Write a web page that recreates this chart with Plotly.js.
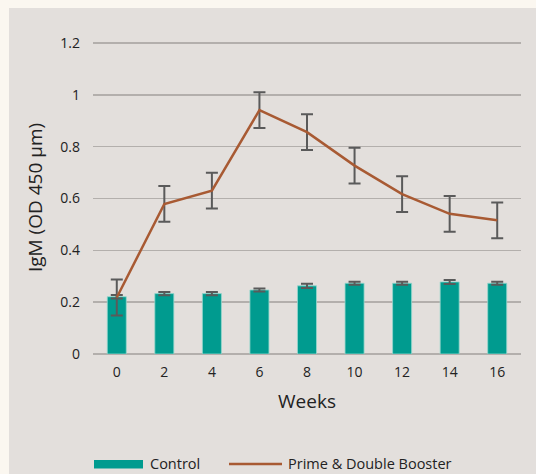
<!DOCTYPE html>
<html>
<head>
<meta charset="utf-8">
<script src="https://cdn.plot.ly/plotly-3.0.1.min.js"></script>
<style>html,body{margin:0;padding:0;background:#fbf7f0;}#chart{width:536px;height:474px;}</style>
</head>
<body>
<div id="chart"></div>
<script>
const weeks = ['0','2','4','6','8','10','12','14','16'];
const controlValues = [0.221, 0.233, 0.233, 0.247, 0.263, 0.273, 0.273, 0.278, 0.273];
const controlErrors = [0.007, 0.006, 0.006, 0.006, 0.008, 0.006, 0.006, 0.008, 0.006];
const boosterValues = [0.218, 0.579, 0.630, 0.941, 0.856, 0.727, 0.617, 0.541, 0.516];
const boosterErrors = [0.069, 0.069, 0.069, 0.069, 0.069, 0.069, 0.069, 0.069, 0.069];
const seriesNames = ['Control', 'Prime & Double Booster'];

const FONT = 'Open Sans, Noto Sans, sans-serif';
const teal = '#009b8f';
const brown = '#a85a33';

const traces = [
  {
    type: 'bar', x: weeks, y: controlValues, name: seriesNames[0],
    width: 0.4,
    marker: {color: teal, line: {color: 'rgba(150,215,205,0.8)', width: 1}},
    error_y: {type: 'data', array: controlErrors, visible: true, color: '#5a5a5a', thickness: 2, width: 6},
    showlegend: false, hoverinfo: 'skip'
  },
  {
    type: 'scatter', mode: 'lines', x: weeks, y: boosterValues, name: seriesNames[1],
    line: {color: brown, width: 2.5},
    error_y: {type: 'data', array: boosterErrors, visible: true, color: '#5a5a5a', thickness: 2, width: 6},
    showlegend: false, hoverinfo: 'skip'
  }
];

const W = 428, H = 313, L = 93, T = 41;
const px = v => (v - L) / W;
const py = v => (T + H - v) / H;

const layout = {
  width: 536, height: 474,
  margin: {l: L, r: 536 - L - W, t: T, b: 474 - T - H, pad: 0},
  paper_bgcolor: '#e3dfdc',
  plot_bgcolor: 'rgba(0,0,0,0)',
  font: {family: FONT, color: '#222222', size: 14},
  showlegend: false,
  xaxis: {
    type: 'category', range: [-0.5, 8.5],
    showgrid: false, zeroline: false, showline: false, ticks: '',
    tickfont: {size: 14, family: FONT, color: '#222'},
    ticklabelstandoff: 8,
    title: {text: 'Weeks', font: {size: 19, family: FONT, color: '#222'}, standoff: 14}
  },
  yaxis: {
    range: [0, 1.2 * 313 / 311], tickvals: [0, 0.2, 0.4, 0.6, 0.8, 1, 1.2],
    ticktext: ['0', '0.2', '0.4', '0.6', '0.8', '1', '1.2'],
    showgrid: true, gridcolor: '#b3afac', gridwidth: 1.5,
    zeroline: true, zerolinecolor: '#b3afac', zerolinewidth: 1.5,
    showline: false, ticks: '',
    tickfont: {size: 14, family: FONT, color: '#222'},
    ticklabelstandoff: 12,
    title: {text: 'IgM (OD 450 μm)', font: {size: 19, family: FONT, color: '#222'}, standoff: 12}
  },
  shapes: [
    {type: 'rect', xref: 'paper', yref: 'paper', layer: 'below', x0: -0.3, x1: px(9), y0: -0.6, y1: 1.3, fillcolor: '#fbf7f0', line: {width: 0}},
    {type: 'rect', xref: 'paper', yref: 'paper', layer: 'below', x0: -0.3, x1: 1.2, y0: py(8), y1: 1.3, fillcolor: '#fbf7f0', line: {width: 0}},
    {type: 'rect', xref: 'paper', yref: 'paper', x0: px(94), x1: px(143), y0: py(468.5), y1: py(460), fillcolor: teal, line: {width: 0}},
    {type: 'line', xref: 'paper', yref: 'paper', x0: px(229), x1: px(282), y0: py(464), y1: py(464), line: {color: brown, width: 2.5}}
  ],
  annotations: [
    {xref: 'paper', yref: 'paper', x: px(148), y: py(464), xanchor: 'left', yanchor: 'middle', text: seriesNames[0], showarrow: false, font: {size: 14.5, family: FONT, color: '#222'}},
    {xref: 'paper', yref: 'paper', x: px(286), y: py(464), xanchor: 'left', yanchor: 'middle', text: seriesNames[1], showarrow: false, font: {size: 14.5, family: FONT, color: '#222'}}
  ]
};

Plotly.newPlot('chart', traces, layout, {displayModeBar: false, staticPlot: true});
</script>
</body>
</html>
